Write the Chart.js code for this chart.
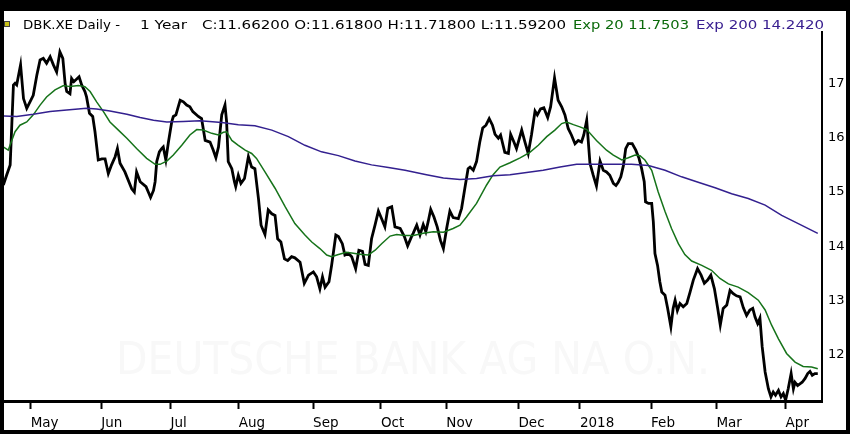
<!DOCTYPE html>
<html>
<head>
<meta charset="utf-8">
<script src="https://cdn.jsdelivr.net/npm/chart.js@4.4.0/dist/chart.umd.min.js"></script>
<style>
  html, body { margin: 0; padding: 0; background: #000; width: 850px; height: 434px; overflow: hidden; }
  #wrap { position: absolute; left: 4px; top: 11px; width: 842px; height: 419px; background: #fff; }
</style>
</head>
<body>
<div id="wrap"><canvas id="dbkChart" width="842" height="419"></canvas></div>
<script>
// x = trading day since 19 Apr 2017, y = price (EUR)
const closePrices = [
  [0.1,15.13],[1.1,15.31],[2.2,15.50],[3.2,16.97],[3.7,17.00],[4.2,16.97],[5.4,17.34],[6.3,16.72],
  [7.3,16.54],[8.3,16.66],[9.3,16.78],[10.4,17.15],[11.4,17.43],[12.4,17.46],[13.4,17.37],[14.5,17.49],
  [15.5,17.34],[16.5,17.21],[17.5,17.58],[18.4,17.46],[19.1,17.00],[19.6,16.85],[20.6,16.81],[21.1,17.09],
  [21.8,17.03],[23.4,17.12],[24.2,16.97],[25.2,16.85],[25.7,16.75],[26.6,16.45],[27.6,16.39],[28.3,16.11],
  [29.3,15.59],[30.4,15.61],[31.4,15.61],[32.4,15.34],[33.4,15.50],[34.5,15.65],[35.2,15.80],[36.0,15.53],
  [37.5,15.37],[39.6,15.06],[40.4,15.00],[41.1,15.37],[42.2,15.19],[44.0,15.10],[44.7,15.00],[45.4,14.90],
  [46.3,15.03],[46.8,15.19],[47.3,15.56],[48.1,15.74],[48.8,15.80],[49.3,15.83],[50.1,15.59],[50.9,15.92],
  [51.9,16.29],[52.4,16.39],[53.2,16.42],[54.5,16.69],[55.5,16.66],[56.5,16.60],[57.5,16.57],[58.4,16.48],
  [60.1,16.39],[61.1,16.35],[62.2,15.95],[63.7,15.92],[64.7,15.77],[65.5,15.63],[66.3,15.83],[67.3,16.42],
  [68.3,16.60],[68.8,16.29],[69.3,15.56],[70.4,15.43],[71.2,15.19],[71.6,15.10],[72.4,15.31],[73.2,15.16],
  [74.3,15.25],[75.5,15.65],[76.5,15.46],[77.5,15.43],[78.6,14.88],[79.4,14.39],[80.6,14.22],[81.6,14.67],
  [82.7,14.60],[83.7,14.57],[84.5,14.14],[85.5,14.08],[86.6,13.77],[87.6,13.74],[88.8,13.81],[89.8,13.79],
  [91.4,13.71],[92.7,13.32],[94.0,13.47],[95.5,13.53],[96.5,13.44],[97.5,13.22],[98.3,13.44],[99.1,13.25],
  [100.3,13.35],[101.1,13.65],[102.4,14.21],[103.2,14.18],[104.4,14.05],[105.2,13.84],[106.3,13.87],[107.3,13.81],
  [108.5,13.59],[109.5,13.93],[110.6,13.91],[111.4,13.67],[112.4,13.65],[113.4,14.14],[114.5,14.40],[115.5,14.65],
  [116.5,14.51],[117.5,14.36],[118.4,14.70],[119.6,14.73],[120.6,14.36],[122.2,14.33],[123.5,14.18],[124.5,14.01],
  [125.7,14.18],[126.2,14.24],[127.3,14.39],[128.3,14.21],[129.3,14.40],[130.1,14.27],[130.8,14.45],[131.6,14.68],
  [132.6,14.54],[133.6,14.36],[134.6,14.11],[135.5,13.96],[136.5,14.33],[137.5,14.65],[138.5,14.53],[140.1,14.51],
  [141.1,14.70],[142.1,15.07],[143.1,15.43],[143.7,15.46],[144.7,15.40],[145.7,15.56],[146.7,15.92],[147.6,16.18],
  [148.6,16.23],[149.6,16.35],[150.6,16.23],[151.4,16.06],[152.4,15.99],[153.1,16.05],[154.4,15.73],[155.5,15.71],
  [156.2,16.06],[157.2,15.92],[158.0,15.80],[159.6,16.14],[160.6,15.92],[161.6,15.71],[162.6,16.05],[163.7,16.49],
  [164.4,16.42],[165.4,16.53],[166.4,16.55],[167.6,16.37],[168.5,16.57],[169.7,17.10],[170.8,16.69],[171.9,16.57],
  [172.9,16.42],[173.9,16.17],[174.9,16.05],[176.0,15.89],[177.0,15.95],[178.0,15.92],[178.7,16.05],[179.6,16.32],
  [180.6,15.53],[181.6,15.31],[182.6,15.11],[183.7,15.57],[184.7,15.40],[185.7,15.37],[186.7,15.31],[187.8,15.16],
  [188.6,15.12],[189.3,15.18],[190.1,15.28],[190.9,15.49],[191.6,15.80],[192.4,15.89],[193.6,15.89],[194.7,15.77],
  [195.7,15.62],[196.5,15.43],[197.3,15.19],[197.7,14.82],[198.6,14.79],[199.6,14.79],[200.1,14.45],[200.6,13.87],
  [201.4,13.65],[202.1,13.35],[202.7,13.16],[203.7,13.10],[204.5,12.86],[205.5,12.52],[206.2,12.86],[206.8,13.01],
  [207.5,12.82],[208.3,12.95],[209.3,12.89],[210.4,12.95],[211.4,13.16],[212.4,13.38],[213.7,13.59],[214.8,13.47],
  [215.8,13.32],[216.8,13.38],[217.8,13.47],[218.9,13.22],[219.9,12.86],[220.7,12.55],[221.6,12.86],[222.7,12.92],
  [223.7,13.19],[224.7,13.13],[225.7,13.09],[226.8,13.07],[227.8,12.87],[228.8,12.73],[229.8,12.83],[230.7,12.86],
  [231.4,12.70],[232.2,12.58],[232.9,12.68],[233.6,12.15],[234.5,11.69],[235.5,11.38],[236.3,11.23],[237.0,11.32],
  [237.7,11.26],[238.6,11.35],[239.4,11.23],[240.1,11.29],[240.8,11.17],[241.6,11.38],[242.5,11.66],[243.2,11.38],
  [243.7,11.50],[244.5,11.44],[245.2,11.47],[245.9,11.50],[246.8,11.57],[247.6,11.66],[248.3,11.70],[249.0,11.63],
  [249.8,11.66],[250.7,11.66]
];

const ema20 = [
  [0.1,15.83],[1.6,15.77],[3.7,16.11],[5.2,16.23],[7.3,16.29],[9.3,16.42],[11.4,16.60],[13.4,16.75],
  [16.0,16.88],[18.6,16.96],[20.6,16.94],[23.2,16.96],[25.2,16.94],[26.8,16.85],[28.8,16.66],[30.9,16.48],
  [32.9,16.29],[35.5,16.14],[38.1,15.99],[41.1,15.80],[44.2,15.62],[46.8,15.51],[48.3,15.51],[50.4,15.57],
  [52.4,15.68],[55.0,15.86],[57.5,16.05],[59.6,16.15],[61.6,16.14],[64.2,16.08],[66.3,16.05],[67.8,16.10],
  [68.8,16.11],[70.4,15.95],[72.4,15.86],[74.5,15.77],[76.5,15.71],[78.0,15.62],[80.6,15.37],[83.7,15.07],
  [86.8,14.73],[89.8,14.42],[92.9,14.21],[95.0,14.08],[97.5,13.96],[99.6,13.84],[101.1,13.81],[103.2,13.85],
  [105.7,13.89],[108.3,13.87],[110.4,13.85],[112.4,13.84],[114.5,13.93],[116.5,14.05],[119.1,14.19],[121.1,14.22],
  [123.7,14.20],[126.3,14.20],[129.3,14.24],[132.4,14.27],[135.5,14.26],[138.5,14.33],[140.6,14.39],[142.6,14.54],
  [145.7,14.79],[148.8,15.13],[150.8,15.32],[152.9,15.46],[156.0,15.54],[159.1,15.63],[162.1,15.73],[164.7,15.86],
  [167.3,16.02],[169.8,16.14],[171.9,16.26],[173.4,16.29],[175.5,16.24],[177.5,16.20],[179.6,16.15],[182.6,15.95],
  [185.7,15.77],[187.8,15.68],[190.4,15.59],[192.4,15.63],[194.5,15.68],[196.0,15.67],[197.5,15.59],[199.6,15.40],
  [201.6,15.00],[203.7,14.64],[205.7,14.33],[207.8,14.05],[209.8,13.85],[211.9,13.73],[215.0,13.65],[218.0,13.56],
  [220.6,13.41],[223.2,13.31],[226.2,13.25],[229.3,13.15],[232.4,13.01],[234.5,12.83],[236.5,12.55],[238.6,12.30],
  [241.1,12.03],[243.7,11.87],[246.2,11.79],[248.8,11.78],[250.7,11.75]
];

const ema200 = [
  [0.1,16.40],[4.2,16.39],[9.3,16.43],[14.5,16.48],[19.6,16.51],[25.7,16.54],[28.8,16.53],[32.9,16.49],
  [38.1,16.43],[42.2,16.37],[46.3,16.32],[50.4,16.29],[55.5,16.30],[60.6,16.31],[67.3,16.28],[72.4,16.24],
  [77.5,16.22],[82.7,16.14],[87.8,16.02],[92.9,15.86],[98.0,15.74],[103.2,15.67],[108.3,15.57],[113.4,15.50],
  [118.6,15.45],[123.7,15.40],[130.3,15.32],[135.5,15.26],[140.6,15.23],[145.7,15.25],[150.8,15.30],[156.0,15.32],
  [161.1,15.36],[166.2,15.40],[171.4,15.46],[176.5,15.51],[181.6,15.51],[188.3,15.51],[193.4,15.51],[198.6,15.49],
  [203.7,15.40],[208.8,15.28],[213.9,15.18],[219.1,15.08],[224.2,14.97],[229.3,14.88],[234.5,14.76],[239.6,14.57],
  [244.7,14.42],[250.7,14.24]
];

// first trading day of each month, same day units as above
const monthTickPos = [8.5, 30.2, 51.5, 72.5, 95.4, 116.3, 136.4, 158.6, 177.5, 199.4, 219.5, 240.8];
const monthTickLabels = ['May', 'Jun', 'Jul', 'Aug', 'Sep', 'Oct', 'Nov', 'Dec', '2018', 'Feb', 'Mar', 'Apr'];
const priceTicks = [12, 13, 14, 15, 16, 17];

const toPoints = arr => arr.map(([x, y]) => ({ x, y }));

// squeeze/stretch a string into a given span
function fitText(ctx, text, x0, x1, y, color) {
    const w = ctx.measureText(text).width;
    ctx.save();
    ctx.translate(x0, y);
    ctx.scale((x1 - x0) / w, 1);
    ctx.fillStyle = color;
    ctx.fillText(text, 0, 0);
    ctx.restore();
}

const headerPlugin = {
    id: 'header',
    afterDraw(chart) {
        const ctx = chart.ctx;
        ctx.save();
        ctx.fillStyle = '#c9c21a';
        ctx.fillRect(1, 11, 4, 4);
        ctx.strokeStyle = '#444';
        ctx.lineWidth = 1;
        ctx.strokeRect(0.5, 10.5, 5, 5);
        ctx.font = '13px "DejaVu Sans"';
        ctx.textBaseline = 'middle';
        fitText(ctx, 'DBK.XE Daily -', 19, 116, 15, '#000');
        fitText(ctx, '1 Year', 136, 183, 15, '#000');
        fitText(ctx, 'C:11.66200 O:11.61800 H:11.71800 L:11.59200', 198, 562, 15, '#000');
        fitText(ctx, 'Exp 20 11.7503', 569, 685, 15, '#0b6a0b');
        fitText(ctx, 'Exp 200 14.2420', 692, 820, 15, '#3a2090');
        ctx.restore();
    }
};

const watermarkPlugin = {
    id: 'watermark',
    beforeDatasetsDraw(chart) {
        const ctx = chart.ctx;
        ctx.save();
        ctx.font = '45px "DejaVu Sans"';
        ctx.textBaseline = 'middle';
        fitText(ctx, 'DEUTSCHE BANK AG NA O.N.', 112, 706, 351, '#f8f8f8');
        ctx.restore();
    }
};

new Chart(document.getElementById('dbkChart'), {
    type: 'line',
    data: {
        datasets: [
            {
                label: 'Exp 200',
                data: toPoints(ema200),
                borderColor: '#33208f',
                borderWidth: 1.5,
                pointRadius: 0
            },
            {
                label: 'Exp 20',
                data: toPoints(ema20),
                borderColor: '#16731a',
                borderWidth: 1.5,
                pointRadius: 0
            },
            {
                label: 'DBK.XE',
                data: toPoints(closePrices),
                borderColor: '#000',
                borderWidth: 2.8,
                pointRadius: 0
            }
        ]
    },
    options: {
        responsive: false,
        animation: false,
        layout: { padding: { top: 21, left: 0, right: 0, bottom: 0 } },
        plugins: {
            legend: { display: false },
            tooltip: { enabled: false }
        },
        scales: {
            x: {
                type: 'linear',
                min: 0.3,
                max: 252,
                afterFit(scale) { scale.height = 29; },
                afterBuildTicks(scale) { scale.ticks = monthTickPos.map(v => ({ value: v })); },
                grid: { drawOnChartArea: false, drawTicks: true, tickLength: 8, tickWidth: 2, tickColor: '#000' },
                border: { color: '#000', width: 3 },
                ticks: {
                    align: 'start',
                    padding: 6,
                    autoSkip: false,
                    maxRotation: 0,
                    color: '#000',
                    font: { family: 'DejaVu Sans', size: 13.5 },
                    callback: value => monthTickLabels[monthTickPos.indexOf(value)]
                }
            },
            y: {
                position: 'right',
                min: 11.155,
                max: 17.945,
                afterFit(scale) { scale.width = 24; },
                afterBuildTicks(scale) { scale.ticks = priceTicks.map(v => ({ value: v })); },
                grid: { drawOnChartArea: false, drawTicks: false },
                border: { color: '#000', width: 2 },
                ticks: {
                    padding: 6,
                    color: '#000',
                    font: { family: 'DejaVu Sans', size: 13 }
                }
            }
        }
    },
    plugins: [watermarkPlugin, headerPlugin]
});
</script>
</body>
</html>
